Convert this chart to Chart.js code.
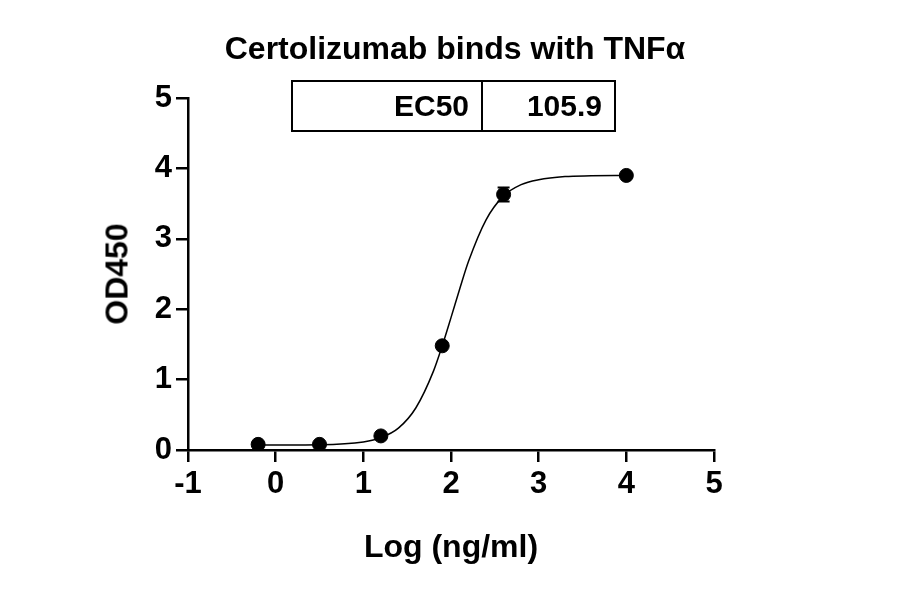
<!DOCTYPE html>
<html><head><meta charset="utf-8">
<script src="https://cdn.jsdelivr.net/npm/chart.js@4"></script>
<style>
body{margin:0;background:#fff;font-family:Arial,"Liberation Sans",sans-serif}
#wrap{position:relative;width:900px;height:594px}
.title{position:absolute;left:0;width:910px;top:30px;text-align:center;font-weight:bold;font-size:32px}
.tbl{position:absolute;left:291px;top:80px;width:321px;height:48px;border:2px solid #000;display:flex;font-weight:bold;font-size:30px}
.tbl div{display:flex;align-items:center;justify-content:flex-end;padding-right:12px;box-sizing:border-box}
.xt{position:absolute;left:188px;width:526px;top:528px;text-align:center;font-weight:bold;font-size:32px}
.yt{position:absolute;left:117px;top:274px;transform:translate(-50%,-50%) rotate(-90deg);font-weight:bold;font-size:32px;white-space:nowrap}
</style></head>
<body><div id="wrap">
<canvas id="c" width="900" height="594"></canvas>
<div class="title">Certolizumab binds with TNFα</div>
<div class="tbl"><div style="width:190px;border-right:2px solid #000">EC50</div><div style="width:131px">105.9</div></div>
<div class="xt">Log (ng/ml)</div>
<div class="yt">OD450</div>
</div>
<script>
const logConc = [-0.2, 0.5, 1.2, 1.9, 2.6, 4.0]
const od = [0.08, 0.08, 0.2, 1.48, 3.63, 3.9]
const odErr = [0, 0, 0, 0, 0.1, 0]
const fitX = [-0.2, 0.5, 1.0, 1.2, 1.4, 1.6, 1.8, 1.9, 2.0, 2.1, 2.2, 2.4, 2.6, 2.8, 3.0, 3.3, 3.6, 4.0]
const fitY = [0.07, 0.075, 0.115, 0.175, 0.31, 0.6, 1.12, 1.48, 1.88, 2.29, 2.68, 3.27, 3.61, 3.77, 3.84, 3.885, 3.895, 3.9]
const xTicks = [-1, 0, 1, 2, 3, 4, 5]
const yTicks = [0, 1, 2, 3, 4, 5]

const errorBars = {
    id: 'errorBars',
    afterDatasetsDraw(chart) {
        const ctx = chart.ctx, xs = chart.scales.x, ys = chart.scales.y
        ctx.save()
        ctx.strokeStyle = '#000'
        ctx.lineWidth = 2
        logConc.forEach((x, i) => {
            if (!odErr[i]) return
            const px = xs.getPixelForValue(x)
            const top = ys.getPixelForValue(od[i] + odErr[i])
            const bot = ys.getPixelForValue(od[i] - odErr[i])
            ctx.beginPath()
            ctx.moveTo(px, top); ctx.lineTo(px, bot)
            ctx.moveTo(px - 6, top); ctx.lineTo(px + 6, top)
            ctx.moveTo(px - 6, bot); ctx.lineTo(px + 6, bot)
            ctx.stroke()
        })
        ctx.restore()
    }
}

const font = { family: 'Arial, "Liberation Sans", sans-serif', size: 31, weight: 'bold' }

new Chart(document.getElementById('c'), {
    type: 'scatter',
    data: {
        datasets: [{
            data: fitX.map((x, i) => ({ x: x, y: fitY[i] })),
            showLine: true,
            borderColor: '#000',
            borderWidth: 1.5,
            pointRadius: 0,
            cubicInterpolationMode: 'monotone'
        }, {
            data: logConc.map((x, i) => ({ x: x, y: od[i] })),
            pointRadius: 7,
            backgroundColor: '#000',
            borderColor: '#000'
        }]
    },
    options: {
        responsive: false,
        animation: false,
        layout: { padding: { top: 98, right: 186, left: 0, bottom: 0 } },
        plugins: { legend: { display: false }, tooltip: { enabled: false } },
        scales: {
            x: {
                type: 'linear', min: -1, max: 5,
                afterBuildTicks: s => { s.ticks = xTicks.map(v => ({ value: v })) },
                afterFit: s => { s.height = 144 },
                grid: { drawOnChartArea: false, tickLength: 12, color: '#000', lineWidth: 2.5 },
                border: { color: '#000', width: 2.5 },
                ticks: { color: '#000', font: font, padding: 4, maxRotation: 0 }
            },
            y: {
                type: 'linear', min: 0, max: 5,
                afterBuildTicks: s => { s.ticks = yTicks.map(v => ({ value: v })) },
                afterFit: s => { s.width = 188 },
                grid: { drawOnChartArea: false, tickLength: 12, color: '#000', lineWidth: 2.5 },
                border: { color: '#000', width: 2.5 },
                ticks: { color: '#000', font: font, padding: 4 }
            }
        }
    },
    plugins: [errorBars]
})
</script>
</body></html>
